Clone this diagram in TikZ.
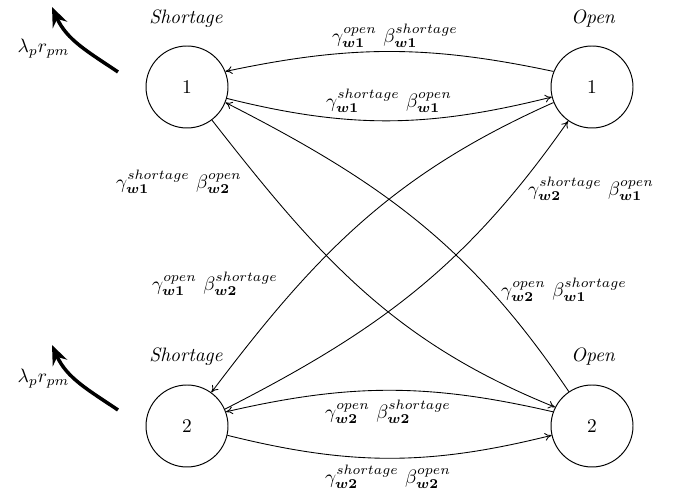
\documentclass[tikz,border=0pt]{standalone}
\usepackage{amsmath,bm}
\usetikzlibrary{arrows.meta}
\newcommand{\wb}[1]{\boldsymbol{w#1}}
\begin{document}
\begin{tikzpicture}[x=0.5147pt,y=0.5147pt,
  state/.style={draw, circle, minimum size=42.2pt, inner sep=0pt, line width=0.5pt},
  edge/.style={-{To[length=3.5pt,width=4pt]}, line width=0.45pt},
  lab/.style={inner sep=0pt},
  title/.style={inner sep=0pt, anchor=base, font=\itshape},
  bigarrow/.style={-{Stealth[length=10pt,width=8pt]}, line width=1.8pt}]
\useasboundingbox (0,0) rectangle (680,496);

\node[state] (S1) at (187,409) {1};
\node[state] (O1) at (592,409) {1};
\node[state] (S2) at (187,70) {2};
\node[state] (O2) at (592,70) {2};

\node[title] (tS1) at (186,472.7) {Shortage};
\node[title] (tO1) at (593,472.7) {Open};
\node[title] (tS2) at (186,134.5) {Shortage};
\node[title] (tO2) at (593,134.5) {Open};

% horizontal edges
\draw[edge] (O1.158) to[out=168,in=12] (S1.22);
\draw[edge] (S1.-16) to[out=-14,in=194] (O1.194);
\draw[edge] (O2.160) to[out=167,in=13] (S2.20);
\draw[edge] (S2.-13) to[out=-14,in=194] (O2.193);

% diagonal edges
\draw[edge] (S1.-53) to[out=-52,in=158] (O2.153);
\draw[edge] (O2.124) to[out=124,in=-27] (S1.-22);
\draw[edge] (O1.-158) to[out=204,in=53] (S2.54);
\draw[edge] (S2.24) to[out=27,in=235] (O1.235);

% labels
\node[lab] (l1) at (395,460) {$\gamma^{open}_{\wb1}$ $\beta^{shortage}_{\wb1}$};
\node[lab] (l2) at (389,395) {$\gamma^{shortage}_{\wb1}$ $\beta^{open}_{\wb1}$};
\node[lab] (l3) at (388,84) {$\gamma^{open}_{\wb2}$ $\beta^{shortage}_{\wb2}$};
\node[lab] (l4) at (388,19) {$\gamma^{shortage}_{\wb2}$ $\beta^{open}_{\wb2}$};
\node[lab] (l5) at (179,314) {$\gamma^{shortage}_{\wb1}$ $\beta^{open}_{\wb2}$};
\node[lab] (l6) at (564,206) {$\gamma^{open}_{\wb2}$ $\beta^{shortage}_{\wb1}$};
\node[lab] (l7) at (215,212) {$\gamma^{open}_{\wb1}$ $\beta^{shortage}_{\wb2}$};
\node[lab] (l8) at (591,307) {$\gamma^{shortage}_{\wb2}$ $\beta^{open}_{\wb1}$};

% arrival rates
\coordinate (a1s) at (118,424);
\coordinate (a1e) at (52,489);
\coordinate (a2s) at (118,86);
\coordinate (a2e) at (52,151);
\draw[bigarrow] (a1s) to[out=146,in=-66] (a1e);
\draw[bigarrow] (a2s) to[out=146,in=-66] (a2e);
\node[lab] (r1) at (43.5,447.5) {$\lambda_p r_{pm}$};
\node[lab] (r2) at (43.5,117.5) {$\lambda_p r_{pm}$};
\end{tikzpicture}
\end{document}
